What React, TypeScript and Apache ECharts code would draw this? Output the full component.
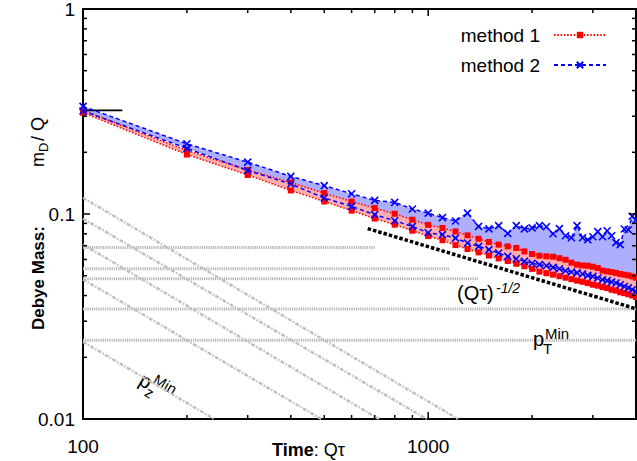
import React, { useEffect, useRef } from 'react';
import * as echarts from 'echarts';

// ---- data ----
const times = [
  100, 200, 300, 400, 500, 600, 700, 800, 900, 1000,
  1100, 1200, 1300, 1400, 1500, 1600, 1700, 1800, 1900, 2000,
  2100, 2200, 2300, 2400, 2500, 2600, 2700, 2800, 2900, 3000,
  3100, 3200, 3300, 3400, 3500, 3600, 3700, 3800, 3900, 4000,
];
const method1Upper = [
  0.320, 0.204, 0.164, 0.1426, 0.1265, 0.1151, 0.107, 0.1003, 0.0938, 0.0885,
  0.0855, 0.0822, 0.0787, 0.0757, 0.0730, 0.0709, 0.0695, 0.0683, 0.0657, 0.0638,
  0.0626, 0.0622, 0.0619, 0.0609, 0.0598, 0.0579, 0.0566, 0.0561, 0.0559, 0.0553,
  0.0545, 0.0529, 0.0525, 0.0521, 0.0516, 0.0510, 0.0506, 0.0502, 0.0496, 0.0489,
];
const method1Lower = [
  0.312, 0.195, 0.155, 0.1303, 0.1151, 0.1038, 0.095, 0.0887, 0.0829, 0.078,
  0.0745, 0.0705, 0.0675, 0.065, 0.0627, 0.0607, 0.059, 0.0572, 0.0556, 0.054,
  0.0523, 0.0514, 0.0506, 0.0497, 0.0489, 0.0481, 0.0473, 0.0467, 0.0460, 0.0452,
  0.0447, 0.0440, 0.0435, 0.0427, 0.0423, 0.0415, 0.0411, 0.0406, 0.0400, 0.0393,
];
const method2Upper = [
  0.335, 0.220, 0.179, 0.1526, 0.1375, 0.1256, 0.1165, 0.114, 0.1058, 0.101,
  0.096, 0.0925, 0.101, 0.087, 0.0846, 0.0878, 0.0804, 0.0877, 0.0846, 0.0856,
  0.0877, 0.0867, 0.0801, 0.0848, 0.0783, 0.0766, 0.0877, 0.0766, 0.0749, 0.0775,
  0.0820, 0.0775, 0.0829, 0.0783, 0.0725, 0.0709, 0.0845, 0.0838, 0.0975, 0.0935,
];
const method2Lower = [
  0.318, 0.209, 0.163, 0.140, 0.1197, 0.1089, 0.0993, 0.0927, 0.087, 0.081,
  0.0793, 0.0763, 0.0722, 0.0695, 0.067, 0.0645, 0.0621, 0.0605, 0.0587, 0.0575,
  0.0566, 0.0559, 0.0549, 0.0541, 0.0529, 0.0521, 0.0516, 0.0510, 0.0502, 0.0496,
  0.0487, 0.0478, 0.0473, 0.0466, 0.0461, 0.0452, 0.0443, 0.0436, 0.0427, 0.0418,
];

const initialMarkX = [100, 130];
const initialMarkY = 0.32;
const scalingX = [668, 4000];
const scalingY = [0.0849, 0.0345];
const ptMinLevels = [0.0687, 0.0541, 0.0483, 0.0344, 0.0242];
const ptMinEndX = [700, 1150, 1400, 4000, 4000];
const pzStartY = [0.0238, 0.048, 0.071, 0.095, 0.12];
const pzEndX = [240, 490, 720, 990, 1220];

const xMin = 100;
const xMax = 4000;
const yMin = 0.01;
const yMax = 1;
const xLabels = [100, 1000];
const yLabels = [0.01, 0.1, 1];
const xMinorTicks = [200, 300, 400, 500, 600, 700, 800, 900, 2000, 3000];
const yMinorTicks = [0.02, 0.03, 0.04, 0.05, 0.06, 0.07, 0.08, 0.09, 0.2, 0.3, 0.4, 0.5, 0.6, 0.7, 0.8, 0.9];

const FONT = '"Liberation Sans", Arial, Helvetica, sans-serif';
const RED = '#ff0000';
const BLUE = '#0000ff';
const XSYM = 'path://M0,0L10,10M10,0L0,10';

function near(a: number, b: number) {
  return Math.abs(a - b) < 1e-6 * Math.max(Math.abs(a), Math.abs(b));
}

export default function App() {
  const ref = useRef<HTMLDivElement>(null);
  useEffect(() => {
    if (!ref.current) return;
    const chart = echarts.init(ref.current, undefined, { renderer: 'svg' });

    const band = (upper: number[], lower: number[], fill: string, z: number) => ({
      type: 'custom',
      silent: true,
      z,
      data: [[times[0], upper[0]]],
      renderItem: (params: any, api: any) => {
        if (params.dataIndex !== 0) return null;
        const pts: number[][] = [];
        times.forEach((t, i) => pts.push(api.coord([t, upper[i]])));
        for (let i = times.length - 1; i >= 0; i--) pts.push(api.coord([times[i], lower[i]]));
        return { type: 'polygon', z2: z, shape: { points: pts }, style: { fill, stroke: 'none', opacity: 1 } };
      },
    });

    const dataLine = (name: string, vals: number[], color: string, dash: number[], symbol: string, size: number, z: number) => ({
      name,
      type: 'line',
      z,
      silent: true,
      data: times.map((t, i) => [t, vals[i]]),
      symbol,
      symbolSize: size,
      showSymbol: true,
      lineStyle: { color, width: 1.5, type: dash },
      itemStyle: { color, borderColor: color, borderWidth: symbol === 'rect' ? 0 : 1.6 },
      emphasis: { disabled: true },
    });

    const refLine = (data: number[][], color: string, width: number, dash: number[], z: number) => ({
      type: 'line',
      z,
      silent: true,
      data,
      symbol: 'none',
      lineStyle: { color, width, type: dash },
      emphasis: { disabled: true },
    });

    const ptLines = ptMinLevels.map((v, i) => refLine([[xMin, v], [ptMinEndX[i], v]], '#b4b4b4', 3, [1.2, 1], 1));
    const pzLines = pzStartY.map((v, i) => refLine([[xMin, v], [pzEndX[i], yMin]], '#c0c0c0', 2.5, [4, 1.5, 1.5, 1.5], 1));

    const ticks = {
      type: 'custom',
      silent: true,
      z: 20,
      data: [[xMin, yMin]],
      renderItem: (params: any, api: any) => {
        if (params.dataIndex !== 0) return null;
        const [x0, yb] = api.coord([xMin, yMin]);
        const [x1, yt] = api.coord([xMax, yMax]);
        const children: any[] = [];
        const add = (a: number, b: number, c: number, d: number) =>
          children.push({ type: 'line', shape: { x1: a, y1: b, x2: c, y2: d }, style: { stroke: '#000', lineWidth: 1.5 } });
        xLabels.forEach((v) => { const px = api.coord([v, yMin])[0]; add(px, yb, px, yb - 7); add(px, yt, px, yt + 7); });
        xMinorTicks.forEach((v) => { const px = api.coord([v, yMin])[0]; add(px, yb, px, yb - 4); add(px, yt, px, yt + 4); });
        yLabels.forEach((v) => { const py = api.coord([xMin, v])[1]; add(x0, py, x0 + 7, py); add(x1, py, x1 - 7, py); });
        yMinorTicks.forEach((v) => { const py = api.coord([xMin, v])[1]; add(x0, py, x0 + 4, py); add(x1, py, x1 - 4, py); });
        return { type: 'group', children };
      },
    };

    const option: any = {
      animation: false,
      backgroundColor: '#fff',
      grid: {
        left: 83, right: 1, top: 9, bottom: 42,
        show: true, borderColor: '#000', borderWidth: 2, backgroundColor: 'transparent',
        containLabel: false, outerBoundsMode: 'none',
      },
      xAxis: {
        type: 'log', logBase: 10, min: xMin, max: xMax,
        axisLine: { show: false }, axisTick: { show: false }, splitLine: { show: false }, minorTick: { show: false },
        axisLabel: {
          interval: 0, margin: 18, fontSize: 19, fontFamily: FONT, color: '#000',
          formatter: (v: number) => (xLabels.some((l) => near(l, v)) ? String(Math.round(v)) : ''),
        },
      },
      yAxis: {
        type: 'log', logBase: 10, min: yMin, max: yMax,
        axisLine: { show: false }, axisTick: { show: false }, splitLine: { show: false }, minorTick: { show: false },
        axisLabel: {
          interval: 0, margin: 8, fontSize: 19, fontFamily: FONT, color: '#000',
          formatter: (v: number) => {
            const l = yLabels.find((q) => near(q, v));
            return l === undefined ? '' : String(l);
          },
        },
      },
      legend: {
        data: ['method 1', 'method 2'],
        orient: 'vertical', right: 25, top: 20, align: 'right',
        itemWidth: 52, itemHeight: 8, itemGap: 10, selectedMode: false,
        textStyle: { fontSize: 19, fontFamily: FONT, color: '#000', lineHeight: 20, padding: [0, 9, 0, 0] },
      },
      series: [
        ...ptLines,
        ...pzLines,
        band(method2Upper, method2Lower, '#aeaeff', 2),
        band(method1Upper, method1Lower, '#ffaeae', 3),
        refLine(scalingX.map((x, i) => [x, scalingY[i]]), '#000', 3.5, [3.5, 2], 4),
        refLine(initialMarkX.map((x) => [x, initialMarkY]), '#000', 1.8, [], 4),
        dataLine('method 1', method1Upper, RED, [1.5, 1.8], 'rect', 6, 5),
        dataLine('method 1', method1Lower, RED, [1.5, 1.8], 'rect', 6, 5),
        dataLine('method 2', method2Upper, BLUE, [4, 3], XSYM, 7, 6),
        dataLine('method 2', method2Lower, BLUE, [4, 3], XSYM, 7, 6),
        ticks,
      ],
      graphic: [
        {
          type: 'group', x: 38, y: 330, rotation: Math.PI / 2, z: 50,
          children: [
            { type: 'text', x: 0, y: 0, style: { text: 'Debye Mass:', fontSize: 17, fontWeight: 'bold', fontFamily: FONT, fill: '#000', align: 'left', verticalAlign: 'middle' } },
            { type: 'text', x: 163, y: 0, style: { text: 'm', fontSize: 18, fontFamily: FONT, fill: '#000', align: 'left', verticalAlign: 'middle' } },
            { type: 'text', x: 178, y: 5, style: { text: 'D', fontSize: 13, fontFamily: FONT, fill: '#000', align: 'left', verticalAlign: 'middle' } },
            { type: 'text', x: 189, y: 0, style: { text: '/ Q', fontSize: 18, fontFamily: FONT, fill: '#000', align: 'left', verticalAlign: 'middle' } },
          ],
        },
        {
          type: 'text', x: 272, y: 450, z: 50,
          style: {
            text: '{b|Time}{n|: Qτ}', align: 'left', verticalAlign: 'middle',
            rich: {
              b: { fontSize: 18, fontWeight: 'bold', fontFamily: FONT, fill: '#000' },
              n: { fontSize: 18, fontFamily: FONT, fill: '#000' },
            },
          },
        },
        { type: 'text', x: 457, y: 293, z: 50, style: { text: '(Qτ)', fontSize: 20, fontFamily: FONT, fill: '#000', align: 'left', verticalAlign: 'middle' } },
        { type: 'text', x: 496, y: 288, z: 50, style: { text: '-1/2', fontSize: 14, fontStyle: 'italic', fontFamily: FONT, fill: '#000', align: 'left', verticalAlign: 'middle' } },
        { type: 'text', x: 533, y: 339, z: 50, style: { text: 'p', fontSize: 20, fontFamily: FONT, fill: '#000', align: 'left', verticalAlign: 'middle' } },
        { type: 'text', x: 543, y: 348, z: 50, style: { text: 'T', fontSize: 15, fontFamily: FONT, fill: '#000', align: 'left', verticalAlign: 'middle' } },
        { type: 'text', x: 545, y: 333, z: 50, style: { text: 'Min', fontSize: 15, fontFamily: FONT, fill: '#000', align: 'left', verticalAlign: 'middle' } },
        {
          type: 'group', x: 141, y: 378, rotation: -0.534, z: 50,
          children: [
            { type: 'text', x: 0, y: 0, style: { text: 'p', fontSize: 20, fontFamily: FONT, fill: '#000', align: 'left', verticalAlign: 'middle' } },
            { type: 'text', x: 11, y: 8, style: { text: 'z', fontSize: 15, fontFamily: FONT, fill: '#000', align: 'left', verticalAlign: 'middle' } },
            { type: 'text', x: 12, y: -7, style: { text: 'Min', fontSize: 15, fontFamily: FONT, fill: '#000', align: 'left', verticalAlign: 'middle' } },
          ],
        },
      ],
    };
    chart.setOption(option);
    return () => chart.dispose();
  }, []);
  return <div ref={ref} style={{ position: 'fixed', left: 0, top: 0, width: 637, height: 461, background: '#fff' }} />;
}
